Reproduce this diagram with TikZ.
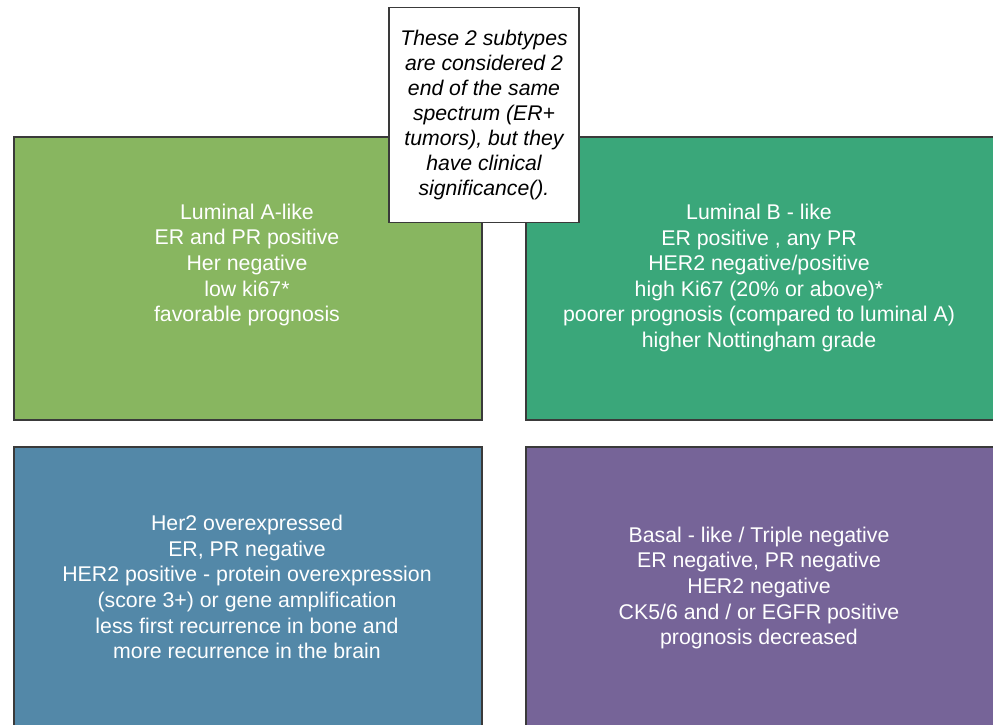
\documentclass[tikz,border=0pt]{standalone}
\usepackage{fontspec}
\setmainfont{Liberation Sans}
\usepackage{tikz}
\usetikzlibrary{positioning}
\definecolor{lumAgreen}{HTML}{88B660}
\definecolor{lumBgreen}{HTML}{3AA77A}
\definecolor{hertwoblue}{HTML}{5388A8}
\definecolor{basalpurple}{HTML}{766498}
\definecolor{edgegray}{HTML}{3A3A3A}
\tikzstyle{typebox}=[rectangle,draw=edgegray,line width=1.5pt,minimum width=468pt,inner sep=0pt,anchor=north west]
\tikzstyle{typetext}=[text=white,align=center,font=\fontsize{21.3}{25.6}\selectfont,inner sep=0pt]
\tikzstyle{notebox}=[rectangle,draw=edgegray,fill=white,line width=1.5pt,minimum width=190pt,minimum height=215pt,align=center,inner sep=0pt,font=\fontsize{21.2}{25}\selectfont\itshape]

\begin{document}
\begin{tikzpicture}[x=1pt,y=-1pt]
      \useasboundingbox (0,0) rectangle (993,724);
      \clip (0,0) rectangle (993,724);
      \node[typebox,fill=lumAgreen,minimum height=283pt] (lumA) at (13,136) {};
      \node[typebox,fill=lumBgreen,minimum height=283pt] (lumB) at (525,136) {};
      \node[typebox,fill=hertwoblue,minimum height=284pt] (hertwo) at (13,446) {};
      \node[typebox,fill=basalpurple,minimum height=284pt] (basal) at (525,446) {};
      \node[typetext] (lumAtxt) at (247,265) {Luminal A-like\\ER and PR positive\\Her negative\\low ki67*\\favorable prognosis};
      \node[typetext] (lumBtxt) at (759,278) {Luminal B - like\\ER positive , any PR\\HER2 negative/positive\\high Ki67 (20\% or above)*\\poorer prognosis (compared to luminal A)\\higher Nottingham grade};
      \node[typetext] (hertwotxt) at (247,587) {Her2 overexpressed\\ER, PR negative\\HER2 positive - protein overexpression\\(score 3+) or gene amplification\\less first recurrence in bone and\\more recurrence in the brain};
      \node[typetext] (basaltxt) at (759,588) {Basal - like / Triple negative\\ER negative, PR negative\\HER2 negative\\CK5/6 and / or EGFR positive\\prognosis decreased};
      \node[notebox] (note) at (484,115) {These 2 subtypes\\are considered 2\\end of the same\\spectrum (ER+\\tumors), but they\\have clinical\\significance().};
    \end{tikzpicture}
\end{document}
